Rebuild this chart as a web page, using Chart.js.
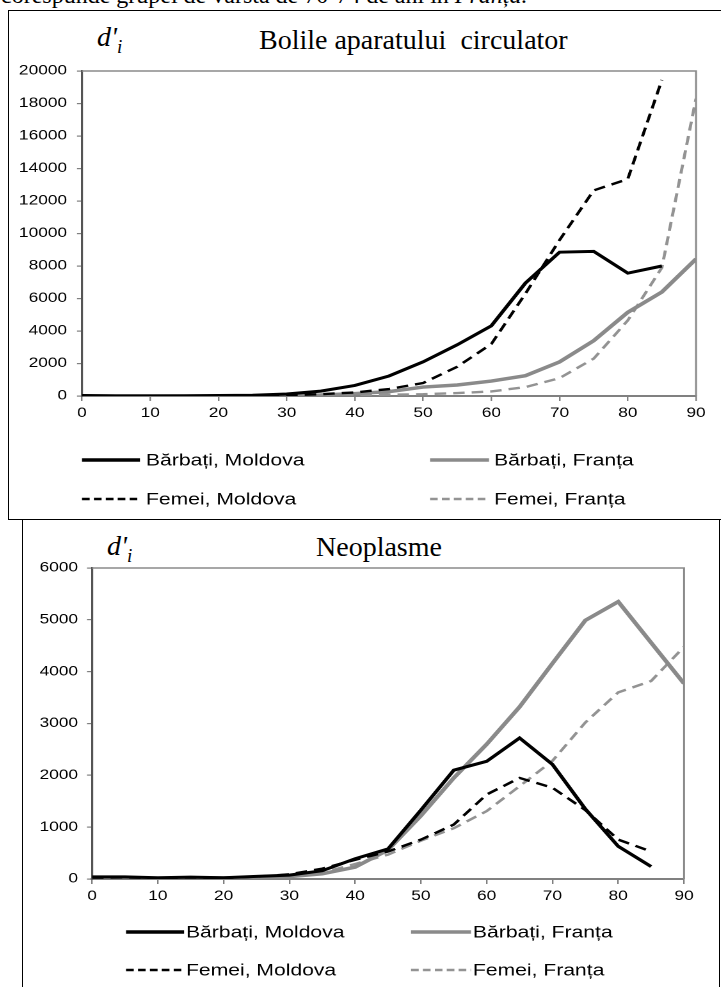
<!DOCTYPE html>
<html>
<head>
<meta charset="utf-8">
<script src="https://cdn.jsdelivr.net/npm/chart.js@4.4.1/dist/chart.umd.min.js"></script>
<style>
  html,body{margin:0;padding:0;background:#fff;}
  body{width:721px;height:987px;position:relative;overflow:hidden;}
  .abs{position:absolute;}
  .serif{font-family:"Liberation Serif","Times New Roman",serif;color:#000;white-space:pre;line-height:1;}
  .frame{position:absolute;border:1.5px solid #000;box-sizing:border-box;}
  .stretch{position:absolute;transform:scaleX(1.28);transform-origin:0 0;}
</style>
</head>
<body>
<div class="abs serif" style="left:1px;top:-17px;font-size:24px;">corespunde grupei de vârstă de 70-74 de ani în <i>Franța.</i></div>

<div class="frame" style="left:8px;top:10px;width:760px;height:510px;"></div>
<div class="frame" style="left:22px;top:519px;width:698px;height:520px;"></div>

<div class="abs serif" style="left:97px;top:23px;font-size:28px;font-style:italic;">d'<span style="font-size:19px;position:relative;top:7px;">i</span></div>
<div class="abs serif" style="left:259px;top:26px;font-size:28px;">Bolile aparatului  circulator</div>

<div class="abs serif" style="left:107px;top:532px;font-size:28px;font-style:italic;">d'<span style="font-size:19px;position:relative;top:7px;">i</span></div>
<div class="abs serif" style="left:316px;top:533px;font-size:28px;">Neoplasme</div>

<div class="stretch" style="left:8px;top:10px;"><canvas id="c1" width="557" height="509"></canvas></div>
<div class="stretch" style="left:22px;top:519px;"><canvas id="c2" width="545" height="468"></canvas></div>

<script>
// ---------- data ----------
const AGES = [0,5,10,15,20,25,30,35,40,45,50,55,60,65,70,75,80,85,90];
const X_TICKS = [0,10,20,30,40,50,60,70,80,90];
const Y_TICKS_CIRC = [0,2000,4000,6000,8000,10000,12000,14000,16000,18000,20000];
const Y_TICKS_NEO = [0,1000,2000,3000,4000,5000,6000];
const SERIES_NAMES = ['Bărbați, Moldova','Femei, Moldova','Bărbați, Franța','Femei, Franța'];

// Bolile aparatului circulator
const CIRC_M_MD = [30,5,5,10,30,50,120,300,650,1230,2100,3150,4320,6950,8850,8900,7560,8000,null];
const CIRC_F_MD = [25,3,3,5,15,25,50,110,220,430,800,1800,3200,6300,9600,12650,13350,19450,null];
const CIRC_M_FR = [10,2,2,5,10,15,25,60,150,270,550,680,920,1250,2100,3400,5150,6400,8430];
const CIRC_F_FR = [8,1,1,3,5,8,15,30,60,80,110,180,280,550,1100,2300,4650,7900,18300];

// Neoplasme
const NEO_M_MD = [40,40,25,35,25,50,75,160,390,580,1330,2100,2270,2720,2210,1350,630,240,null];
const NEO_F_MD = [25,30,20,30,20,45,90,200,370,530,760,1050,1630,1950,1760,1330,760,530,null];
const NEO_M_FR = [15,10,10,20,20,30,45,100,230,560,1220,1950,2600,3320,4160,4990,5350,4560,3770];
const NEO_F_FR = [15,10,10,20,20,35,50,120,290,470,740,980,1310,1790,2280,3020,3600,3820,4480];

// ---------- helpers ----------
const pts = arr => AGES.map((a,i)=>({x:a, y:arr[i]}));
const STYLES = [
  {borderColor:'#000000', borderWidth:3, borderDash:[]},
  {borderColor:'#000000', borderWidth:2.4, borderDash:[9,5.5]},
  {borderColor:'#8a8a8a', borderWidth:3.5, borderDash:[]},
  {borderColor:'#939393', borderWidth:2.4, borderDash:[9,5.5]}
];
function datasets(list){
  return list.map((arr,i)=>Object.assign({
    label: SERIES_NAMES[i], data: pts(arr), pointRadius:0, tension:0, fill:false
  }, STYLES[i]));
}

Chart.defaults.font.family = '"Liberation Sans", Arial, sans-serif';
Chart.defaults.color = '#000';

const plotFrame = {
  id:'plotFrame',
  beforeDatasetsDraw(chart){
    const {ctx, chartArea:a} = chart;
    ctx.save();
    ctx.strokeStyle = '#8a8a8a';
    ctx.lineWidth = 1.5;
    ctx.beginPath();
    ctx.moveTo(a.left, a.top); ctx.lineTo(a.right, a.top); ctx.lineTo(a.right, a.bottom);
    ctx.stroke();
    ctx.restore();
  }
};

const gridLegend = {
  id:'gridLegend',
  afterDraw(chart, args, opts){
    const ctx = chart.ctx;
    ctx.save();
    (opts.items||[]).forEach(it=>{
      const ds = chart.data.datasets[it.ds];
      ctx.beginPath();
      ctx.strokeStyle = ds.borderColor;
      ctx.lineWidth = it.lw;
      ctx.setLineDash(it.dash || []);
      ctx.moveTo(it.x0, it.y); ctx.lineTo(it.x1, it.y);
      ctx.stroke();
      ctx.setLineDash([]);
      ctx.fillStyle = '#000';
      ctx.font = opts.font;
      ctx.textBaseline = 'middle';
      ctx.textAlign = 'left';
      ctx.fillText(ds.label, it.tx, it.y + 1);
    });
    ctx.restore();
  }
};

function makeChart(id, list, yTicks, yMax, geo){
  return new Chart(document.getElementById(id), {
    type:'line',
    data:{ datasets: datasets(list) },
    plugins:[plotFrame, gridLegend],
    options:{
      responsive:false,
      animation:false,
      devicePixelRatio:2,
      layout:{ padding:{ left:0, right:geo.right, top:geo.top, bottom:geo.bottom } },
      plugins:{
        legend:{display:false},
        tooltip:{enabled:false},
        gridLegend:{ font:'16.5px "Liberation Sans", Arial, sans-serif', items:geo.legend }
      },
      scales:{
        x:{
          type:'linear', min:0, max:90,
          afterBuildTicks:s=>{ s.ticks = X_TICKS.map(v=>({value:v})); },
          afterFit:s=>{ s.height = 30; },
          grid:{ drawOnChartArea:false, drawTicks:true, tickLength:5, color:'#808080', lineWidth:1.2 },
          border:{ display:true, color:'#808080', width:2 },
          ticks:{ padding:4, font:{size:13.5}, color:'#000', maxRotation:0, autoSkip:false, callback:v=>String(v) }
        },
        y:{
          type:'linear', min:0, max:yMax,
          afterBuildTicks:s=>{ s.ticks = yTicks.map(v=>({value:v})); },
          afterFit:s=>{ s.width = geo.yw; },
          grid:{ drawOnChartArea:false, drawTicks:true, tickLength:3.9, color:'#808080', lineWidth:1.2 },
          border:{ display:true, color:'#555555', width:1.6 },
          ticks:{ padding:geo.ypad, font:{size:13.5}, color:'#000', autoSkip:false, callback:v=>String(v) }
        }
      }
    }
  });
}

makeChart('c1', [CIRC_M_MD, CIRC_F_MD, CIRC_M_FR, CIRC_F_FR], Y_TICKS_CIRC, 20000, {
  yw:57.8, right:19.5, top:61, bottom:93, ypad:7.8,
  legend:[
    {ds:0, x0:57.8, x1:103.1, tx:107.8, y:450, lw:3.6},
    {ds:2, x0:329.7, x1:375.8, tx:379.7, y:450, lw:3.6},
    {ds:1, x0:57.8, x1:103.1, tx:107.8, y:489, lw:2.4, dash:[6,3.3]},
    {ds:3, x0:329.7, x1:375.8, tx:379.7, y:489, lw:2.4, dash:[6,3.3]}
  ]
});

makeChart('c2', [NEO_M_MD, NEO_F_MD, NEO_M_FR, NEO_F_FR], Y_TICKS_NEO, 6000, {
  yw:54.7, right:27.8, top:49, bottom:78, ypad:7,
  legend:[
    {ds:0, x0:81.3, x1:126.6, tx:128.1, y:413, lw:3.6},
    {ds:2, x0:303.9, x1:350.8, tx:352.3, y:413, lw:3.6},
    {ds:1, x0:81.3, x1:126.6, tx:128.1, y:451, lw:2.4, dash:[6,3.3]},
    {ds:3, x0:303.9, x1:350.8, tx:352.3, y:451, lw:2.4, dash:[6,3.3]}
  ]
});
</script>
</body>
</html>
